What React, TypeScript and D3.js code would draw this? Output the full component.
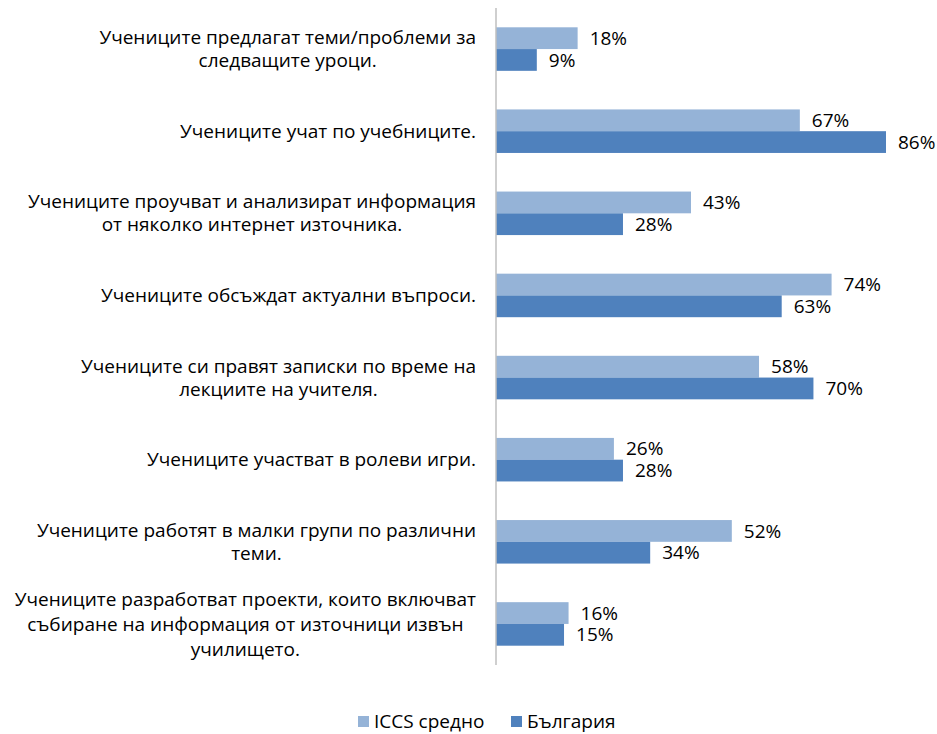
import * as d3 from 'd3';

const categories = [
  ['Учениците предлагат теми/проблеми за', 'следващите уроци.'],
  ['Учениците учат по учебниците.'],
  ['Учениците проучват и анализират информация', 'от няколко интернет източника.'],
  ['Учениците обсъждат актуални въпроси.'],
  ['Учениците си правят записки по време на', 'лекциите на учителя.'],
  ['Учениците участват в ролеви игри.'],
  ['Учениците работят в малки групи по различни', 'теми.'],
  ['Учениците разработват проекти, които включват', 'събиране на информация от източници извън', 'училището.'],
];
const iccs = [18, 67, 43, 74, 58, 26, 52, 16];
const bulgaria = [9, 86, 28, 63, 70, 28, 34, 15];
const seriesNames = ['ICCS средно', 'България'];
const colors = ['#95B3D7', '#4F81BD'];

const W = 937;
const H = 734;
const axisX = 496;
const labelRight = 476;
const fontSize = 19;
const font = "'Open Sans', 'Noto Sans', sans-serif";

// ширина на текст, за да центрираме редовете в блока като в Excel
const ctx = document.createElement('canvas').getContext('2d')!;
ctx.font = `${fontSize}px ${font}`;
const textWidth = (s: string) => ctx.measureText(s).width;

export default function App() {
  const y = d3.scaleBand<number>().domain(d3.range(categories.length)).range([8, 665]).paddingInner(0.47).paddingOuter(0.235);
  const x = d3.scaleLinear().domain([0, 86]).range([axisX, 886]);
  const bh = y.bandwidth() / 2;
  const series = [iccs, bulgaria];

  return (
    <svg width={W} height={H} style={{ position: 'absolute', left: 0, top: 0, background: '#fff' }}>
      {categories.map((lines, i) => {
        const cy = y(i)! + y.bandwidth() / 2;
        const lh = lines.length > 2 ? 25 : 23;
        const y0 = cy - ((lines.length - 1) * lh) / 2;
        const maxW = d3.max(lines, textWidth)!;
        const cx = labelRight - maxW / 2;
        return (
          <text key={i} textAnchor="middle" fontFamily={font} fontSize={fontSize} fill="#000">
            {lines.map((l, j) => (
              <tspan key={j} x={cx} y={y0 + j * lh} dy="0.35em">{l}</tspan>
            ))}
          </text>
        );
      })}
      {series.map((vals, s) =>
        vals.map((v, i) => {
          const top = y(i)! + s * bh;
          return (
            <g key={`${s}-${i}`}>
              <rect x={axisX} y={top} width={x(v) - axisX} height={bh} fill={colors[s]} />
              <text x={x(v) + 12} y={top + bh / 2} dy="0.35em" fontFamily={font} fontSize={fontSize} fill="#000">
                {v}%
              </text>
            </g>
          );
        })
      )}
      <line x1={axisX} x2={axisX} y1={8} y2={665} stroke="#BFBFBF" strokeWidth={1.5} />
      {seriesNames.map((n, s) => {
        const lx = [358, 511][s];
        return (
          <g key={n}>
            <rect x={lx} y={716} width={11} height={11} fill={colors[s]} />
            <text x={lx + 16} y={721.5} dy="0.35em" fontFamily={font} fontSize={fontSize} fill="#000">{n}</text>
          </g>
        );
      })}
    </svg>
  );
}
